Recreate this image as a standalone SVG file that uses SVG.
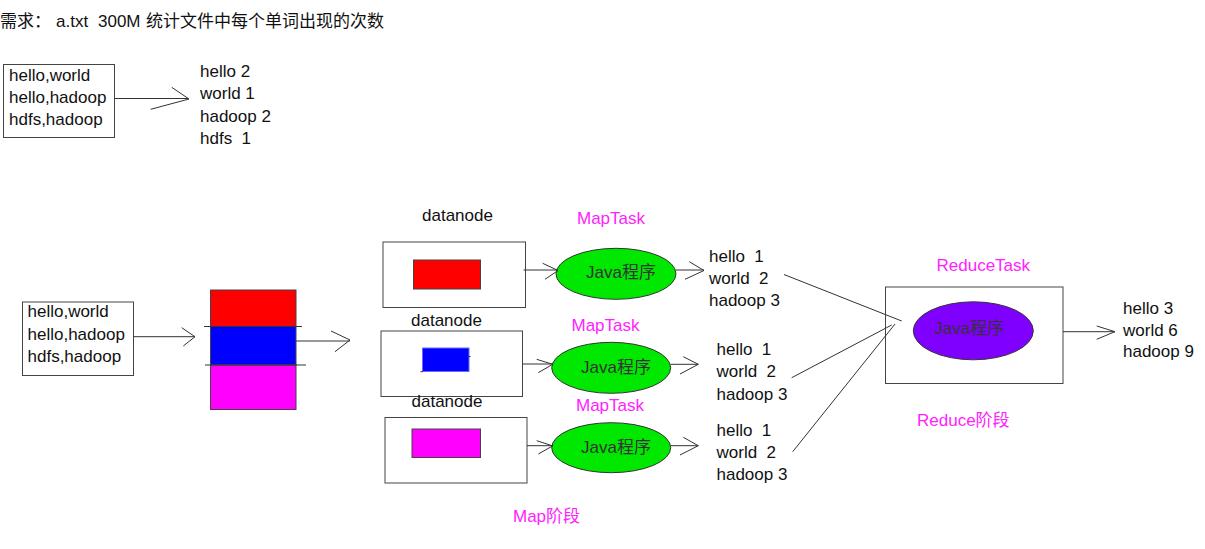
<svg xmlns="http://www.w3.org/2000/svg" width="1205" height="549" viewBox="0 0 1205 549">
<style>
text{font-family:"Liberation Sans","Noto Sans CJK SC",sans-serif;font-size:17px;fill:#111;white-space:pre}
.m{fill:#ff22ff}
.box{fill:#fff;stroke:#444;stroke-width:1}
.c{fill:none;stroke:#333;stroke-width:1}
.g{fill:#00e800;stroke:#333;stroke-width:1}
.jt{fill:#333}
</style>
<rect width="1205" height="549" fill="#fff"/>
<g id="title">
<text x="0" y="27">需求：</text>
<text x="56" y="27">a.txt</text>
<text x="98" y="27">300M</text>
<text x="146" y="27" textLength="238" lengthAdjust="spacing">统计文件中每个单词出现的次数</text>
</g>
<g id="input-top">
<rect class="box" x="3.5" y="64.5" width="111" height="73"/>
<text x="9" y="81">hello,world</text>
<text x="9" y="103">hello,hadoop</text>
<text x="9" y="125">hdfs,hadoop</text>
</g>
<g id="result-top">
<text x="200" y="77">hello 2</text>
<text x="200" y="99">world 1</text>
<text x="200" y="122">hadoop 2</text>
<text x="200" y="144" xml:space="preserve">hdfs  1</text>
</g>
<g id="input-bottom">
<rect class="box" x="22.5" y="302" width="111" height="73.5"/>
<text x="27.5" y="317">hello,world</text>
<text x="27.5" y="339.5">hello,hadoop</text>
<text x="27.5" y="362">hdfs,hadoop</text>
</g>
<g id="blocks">
<rect x="210.5" y="290" width="85.5" height="36.5" fill="#ff0000" stroke="#444"/>
<rect x="210.5" y="326.5" width="85.5" height="38.5" fill="#0000ff" stroke="#444"/>
<rect x="210.5" y="365" width="85.5" height="44.5" fill="#ff00ff" stroke="#444"/>
<line class="c" x1="204" y1="326.5" x2="302" y2="326.5"/>
<line class="c" x1="205" y1="365" x2="306" y2="365"/>
</g>
<g id="datanode1">
<text x="422" y="221">datanode</text>
<rect class="box" x="383" y="242" width="142.5" height="65.5"/>
<rect x="413.5" y="260" width="67" height="29" fill="#ff0000" stroke="#444"/>
</g>
<g id="datanode2">
<text x="411" y="326">datanode</text>
<rect class="box" x="381" y="331" width="141.5" height="65.5"/>
<rect x="422.5" y="348" width="46.5" height="23.5" fill="#0000ff" stroke="#6a6aff"/>
<line class="c" x1="420.5" y1="371.7" x2="423" y2="371.7"/>
<line class="c" x1="468" y1="356.5" x2="470.5" y2="356.5"/>
</g>
<g id="datanode3">
<text x="411.5" y="407">datanode</text>
<rect class="box" x="385" y="417.5" width="142" height="65.5"/>
<rect x="412" y="429" width="68.5" height="28.5" fill="#ff00ff" stroke="#444"/>
</g>
<g id="maptask1">
<text class="m" x="577" y="224">MapTask</text>
<ellipse class="g" cx="616" cy="273.8" rx="60" ry="25.5"/>
<text class="jt" x="586" y="278">Java程序</text>
</g>
<g id="maptask2">
<text class="m" x="571.5" y="331">MapTask</text>
<ellipse class="g" cx="611.2" cy="367.8" rx="59.5" ry="25.5"/>
<text class="jt" x="581" y="372.5">Java程序</text>
</g>
<g id="maptask3">
<text class="m" x="576" y="411">MapTask</text>
<ellipse class="g" cx="611.2" cy="447.7" rx="59.5" ry="25"/>
<text class="jt" x="581" y="452.5">Java程序</text>
</g>
<g id="map-output1">
<text x="709" y="262" xml:space="preserve">hello  1</text>
<text x="709" y="284" xml:space="preserve">world  2</text>
<text x="709" y="306">hadoop 3</text>
</g>
<g id="map-output2">
<text x="716.5" y="355" xml:space="preserve">hello  1</text>
<text x="716.5" y="377" xml:space="preserve">world  2</text>
<text x="716.5" y="399.5">hadoop 3</text>
</g>
<g id="map-output3">
<text x="716.5" y="436" xml:space="preserve">hello  1</text>
<text x="716.5" y="458" xml:space="preserve">world  2</text>
<text x="716.5" y="480">hadoop 3</text>
</g>
<g id="map-stage">
<text class="m" x="513" y="522">Map阶段</text>
</g>
<g id="reducetask">
<text class="m" x="936.5" y="271">ReduceTask</text>
<rect class="box" x="885.5" y="287" width="177.5" height="96.5"/>
<ellipse cx="973.3" cy="330.8" rx="60" ry="29" fill="#8000ff" stroke="#333"/>
<text class="jt" x="934" y="334">Java程序</text>
</g>
<g id="reduce-output">
<text x="1123" y="313.5">hello 3</text>
<text x="1123" y="336">world 6</text>
<text x="1123" y="357">hadoop 9</text>
</g>
<g id="reduce-stage">
<text class="m" x="917" y="426">Reduce阶段</text>
</g>
<g id="connectors">
<path class="c" d="M115 98.5H188 M171.7 87.3L189 99 L150.7 109.3"/>
<path class="c" d="M133.5 336.7H195 M181.7 327.7L195 336.7L183.3 346"/>
<path class="c" d="M296 341H350 M331 331L350 340L335 351.7"/>
<path class="c" d="M523.5 270H558 M542.7 263.3L558 270.5L545 279.3"/>
<path class="c" d="M676 270H704 M689.3 261.7L704 270.5L685 279.3"/>
<path class="c" d="M522.5 364H552.7 M536.7 359.3L552.7 364.3L538.3 372.7"/>
<path class="c" d="M670.7 364.3H698.3 M683.3 356.7L698.3 364.3L680 374"/>
<path class="c" d="M527 445.7H552.7 M536.7 440.7L552.7 445.9L538.3 454"/>
<path class="c" d="M670.7 445.7H698.3 M683.3 437.3L698.3 445.7L680 455"/>
<path class="c" d="M784 274.5L901.7 321"/>
<path class="c" d="M791.7 377.7L891.7 325"/>
<path class="c" d="M792.7 451.7L895 324"/>
<path class="c" d="M1063 331.7H1115 M1096.7 326L1115 331.7L1096.7 339.3"/>
</g>
</svg>
